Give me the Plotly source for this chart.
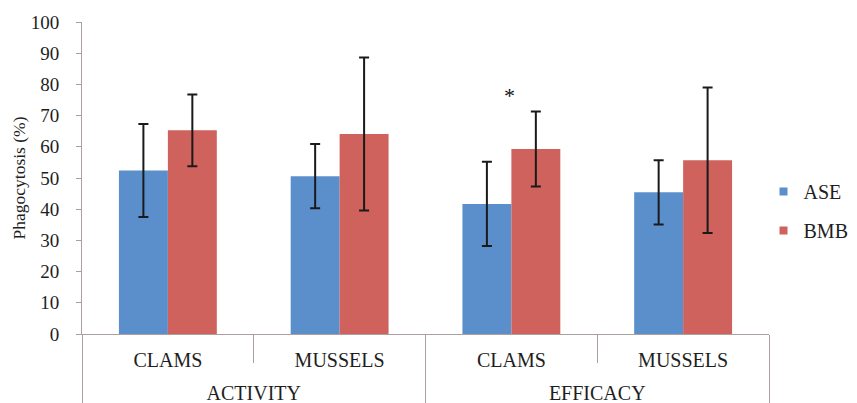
import plotly.graph_objects as go

# ---- data ----
groups = ["ACTIVITY", "ACTIVITY", "EFFICACY", "EFFICACY"]
species = ["CLAMS", "MUSSELS", "CLAMS", "MUSSELS"]
group_names = ["ACTIVITY", "EFFICACY"]
ase = [52.4, 50.6, 41.7, 45.4]
ase_err = [14.9, 10.3, 13.5, 10.3]
bmb = [65.3, 64.1, 59.3, 55.7]
bmb_err = [11.5, 24.5, 12.0, 23.3]
series_names = ["ASE", "BMB"]
colors = ["#5B8FCC", "#CF625D"]
y_ticks = list(range(0, 101, 10))
signif_index = 2          # EFFICACY / CLAMS marked with *
signif_level = 76.3

FONT = "Liberation Serif, Times New Roman, serif"
AXC = "#ab9f9f"
TXT = "#1e1e1e"

x_keys = [g + " " + s for g, s in zip(groups, species)]

fig = go.Figure()
for name, vals, errs, col in zip(series_names, [ase, bmb], [ase_err, bmb_err], colors):
    fig.add_trace(go.Bar(
        x=x_keys, y=vals, name=name, marker_color=col,
        marker_line_width=0, showlegend=False,
        error_y=dict(type="data", array=errs, visible=True, color="#1a1a1a",
                     thickness=2, width=5),
    ))
    fig.add_trace(go.Scatter(
        x=[None], y=[None], mode="markers", name=name, legendgroup=name,
        marker=dict(symbol="square", size=8, color=col),
    ))

# invisible trace that registers the outer (group) categories on the second x axis
fig.add_trace(go.Scatter(x=group_names, y=[None] * len(group_names), xaxis="x2",
                         mode="markers", showlegend=False, hoverinfo="skip"))

fig.add_annotation(x=x_keys[signif_index], y=signif_level, xref="x", yref="y", text="*",
                   showarrow=False, font=dict(family=FONT, size=22, color="#111"),
                   yanchor="middle", xshift=-2)

fig.update_layout(
    template="none",
    width=849, height=395,
    margin=dict(l=74, r=88, t=14, b=69, autoexpand=False),
    paper_bgcolor="white", plot_bgcolor="white",
    font=dict(family=FONT, color=TXT),
    barmode="group", bargap=0.43, bargroupgap=0,
    showlegend=True,
    legend=dict(x=0.992, y=0.394, xanchor="left", yanchor="middle",
                font=dict(family=FONT, size=20, color=TXT),
                tracegroupgap=10, bgcolor="rgba(0,0,0,0)"),
    xaxis=dict(type="category", tickmode="array", tickvals=x_keys, ticktext=species,
               showline=True, linecolor=AXC, linewidth=1,
               ticks="outside", ticklen=28, tickcolor=AXC, tickson="boundaries",
               ticklabelstandoff=8, automargin=False,
               tickfont=dict(family=FONT, size=20, color=TXT), showgrid=False),
    xaxis2=dict(type="category", overlaying="x", anchor="y", side="bottom",
                categoryorder="array", categoryarray=group_names, range=[-0.5, 1.5],
                showline=False, ticks="outside", ticklen=80, tickcolor=AXC,
                tickson="boundaries", ticklabelstandoff=45, automargin=False,
                tickfont=dict(family=FONT, size=20, color=TXT), showgrid=False),
    yaxis=dict(range=[0, 100], tickvals=y_ticks, showline=True, linecolor=AXC,
               ticks="outside", ticklen=5, tickcolor=AXC, showgrid=False, zeroline=False,
               automargin=False, ticklabelstandoff=13,
               tickfont=dict(family=FONT, size=19, color=TXT),
               title=dict(text="Phagocytosis (%)", font=dict(family=FONT, size=17.5, color=TXT),
                          standoff=0)),
)

fig.write_html("out.html")
